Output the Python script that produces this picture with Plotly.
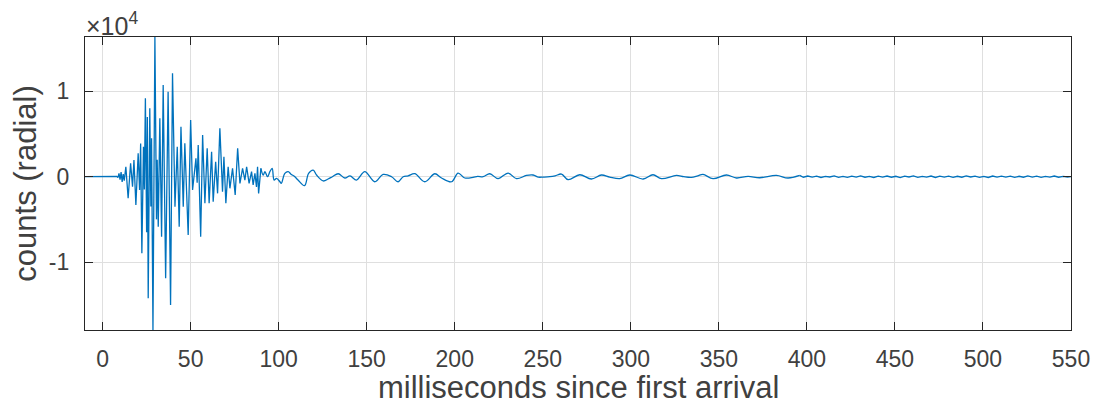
import plotly.graph_objects as go

# ---- data (time in ms, radial counts) ----
burst_t = [-10, 0, 5, 8.0, 8.7, 9.3, 9.9, 10.5, 11.1, 11.7, 12.3, 13.2, 14.5, 15.9, 17.0,
           17.8, 18.9, 20.2, 21.0, 21.6, 22.3, 23.2, 23.7, 24.3, 25.0, 25.4, 25.9, 26.8,
           27.4, 27.8, 28.6, 29.7, 30.6, 31.0, 31.6, 32.5, 33.5, 34.4, 35.8, 37.2, 38.6,
           39.7, 41.1, 42.4, 43.5, 44.5, 45.8, 46.7, 48.6, 50.0, 51.1, 52.0, 53.0, 53.7,
           54.3, 55.7, 56.8, 58.1, 59.4, 60.5, 61.9, 62.8, 64.2, 65.3, 66.6, 68.1, 68.9,
           70.0, 71.3, 72.3, 73.8, 75.3, 76.7, 78.0, 79.5, 80.8, 81.8, 83.2, 84.6, 85.5,
           86.5, 87.4, 88.0, 88.6, 89.9]
burst_v = [0, 0, 0, 50, -100, 400, -350, 550, -600, 300, -450, 1170, -2530, 1570, -1170,
           1960, -3320, 2740, -1560, 3900, -8980, 3500, -1500, 9190, -6500, 7000, -14250, 8020,
           -3500, 4500, -17970, 16380, -5000, 2000, -5860, 6850, -7030, 10750, -11910, 9960, -15040,
           12120, -3520, 3520, -5860, 5860, -3520, 3920, -6830, 6650, -1560, 0, 2150, -700,
           3720, -7030, 4890, -3120, 3330, -3120, 2930, -2930, 1760, -1950, 5670, -1760, 2340,
           -3120, 1170, -1360, 980, -2150, 3330, -780, 980, -390, 1170, -780, 590, -970,
           390, -1200, 1170, -1950, 980]

coda_t = [89.9, 91.2, 92.2, 93.7, 95.0, 96.3, 97.4, 98.8, 100.7, 101.5, 103.5, 105.4, 107.0,
          109.2, 111.0, 114.7, 117.0, 119.6, 121.5, 125.3, 128.1, 130.5, 133.8, 137.6, 140.5,
          144.2, 148.9, 154.6, 159.3, 164.1, 167.8, 170.7, 173.5, 177.3, 183.0, 188.7, 192.5,
          198.2, 201.9, 205.7, 210.4, 213.0, 216.1, 219.9, 224.6, 230.3, 235.1, 240.7, 244.5,
          247.5, 250.2, 254.0, 257.0, 260.6, 264.4, 271.0, 277.6, 283.3, 288.0, 293.7, 299.4,
          307.0, 312.6, 317.4, 325.9, 330.0, 334.4, 338.0, 341.0, 346.7, 354.3, 360.0, 366.6,
          373.2, 382.7, 389.3, 395.9]
coda_v = [980, 200, 590, 0, 590, 980, -390, -200, -590, -780, 390, 590, 300,
          0, -390, -1050, 390, 780, 200, -500, -270, 0, 350, -150, 100,
          -390, 590, -590, 270, 0, -590, 0, 100, 350, -590, 350, -150,
          -590, 430, -150, -80, 50, 0, 350, -230, 430, -230, 150, 200,
          -50, -40, 0, 100, 310, -350, 230, -270, 200, -40, -230, 200,
          -270, 230, -230, 150, 0, -80, 100, 270, -230, 200, -150, 40,
          -120, 150, -150, 150]

tail_t = [395.9, 398, 400.5, 403, 405.5, 408, 410.5, 413, 415.5, 418, 420.5, 423, 425.5, 428,
          430.5, 433, 435.5, 438, 440.5, 443, 445.5, 448, 450.5, 453, 455.5, 458, 460.5,
          463, 465.5, 468, 470.5, 473, 475.5, 478, 480.5, 483, 485.5, 488, 490.5, 493,
          495.5, 498, 500.5, 503, 505.5, 508, 510.5, 513, 515.5, 518, 520.5, 523, 525.5,
          528, 530.5, 533, 535.5, 538, 540.5, 543, 545.5, 548, 550]
tail_v = [150, -60, 80, -40, 70, -90, 50, -30, 90, -70, 40, -80, 60, -50,
          100, -60, 30, -90, 70, -40, 80, -60, 50, -100, 60, -30, 90,
          -70, 40, -50, 80, -90, 60, -40, 70, -80, 50, -60, 90, -30,
          60, -70, 40, -90, 80, -50, 60, -40, 70, -80, 50, -60, 90,
          -40, 60, -70, 30, -50, 80, -60, 40, -30, 20]

x_ticks = [0, 50, 100, 150, 200, 250, 300, 350, 400, 450, 500, 550]
y_ticks = [-10000, 0, 10000]
y_tick_text = ["-1", "0", "1"]

x_title = "milliseconds since first arrival"
y_title = "counts (radial)"

AX = "#262626"
TXT = "#404040"
GRID = "#dfdfdf"
BLUE = "#0072BD"
FONT = "Liberation Sans, Arial, Helvetica, sans-serif"

fig = go.Figure()
# sharp early burst
fig.add_trace(go.Scatter(x=burst_t, y=burst_v, mode="lines",
                         line=dict(color=BLUE, width=1.3), hoverinfo="x+y"))
# smoother coda
fig.add_trace(go.Scatter(x=coda_t, y=coda_v, mode="lines",
                         line=dict(color=BLUE, width=1.3, shape="spline", smoothing=1.0),
                         hoverinfo="x+y"))
# quiet noisy tail
fig.add_trace(go.Scatter(x=tail_t, y=tail_v, mode="lines",
                         line=dict(color=BLUE, width=1.3), hoverinfo="x+y"))

# the page body has an 8px margin, so the figure is 8px smaller than the window
fig.update_layout(
    width=1091, height=399,
    margin=dict(l=77, r=28, t=29, b=77),
    plot_bgcolor="white", paper_bgcolor="white",
    showlegend=False,
    font=dict(family=FONT, color=AX),
)

fig.update_xaxes(
    range=[-10, 550], tickvals=x_ticks,
    showgrid=True, gridcolor=GRID, gridwidth=1, zeroline=False,
    showline=True, linecolor=AX, linewidth=1.3, mirror="ticks",
    ticks="inside", ticklen=8, tickcolor=AX, tickwidth=1,
    tickfont=dict(size=23, color=TXT, family=FONT),
    ticklabelstandoff=8,
    automargin=False,
)
fig.update_yaxes(
    range=[-17970, 16380], tickvals=y_ticks, ticktext=y_tick_text,
    showgrid=True, gridcolor=GRID, gridwidth=1, zeroline=False,
    showline=True, linecolor=AX, linewidth=1.3, mirror="ticks",
    ticks="inside", ticklen=8, tickcolor=AX, tickwidth=1,
    tickfont=dict(size=23, color=TXT, family=FONT),
    ticklabelstandoff=10,
    title=dict(text=y_title,
               font=dict(size=31, color=TXT, family=FONT), standoff=8),
    automargin=False,
)

# x-axis title: box bottom flush with the figure's bottom edge
fig.add_annotation(
    text=x_title, xref="paper", yref="paper", x=0.5, y=0,
    xanchor="center", yanchor="bottom", yshift=-76, borderpad=0, showarrow=False,
    font=dict(size=31, color=TXT, family=FONT),
)

fig.add_annotation(
    text="×10<sup>4</sup>", xref="paper", yref="paper", x=0, y=1,
    xanchor="left", yanchor="bottom", xshift=-1, yshift=-5, showarrow=False,
    font=dict(size=25, color=TXT, family=FONT),
)

fig.write_html("out.html")
